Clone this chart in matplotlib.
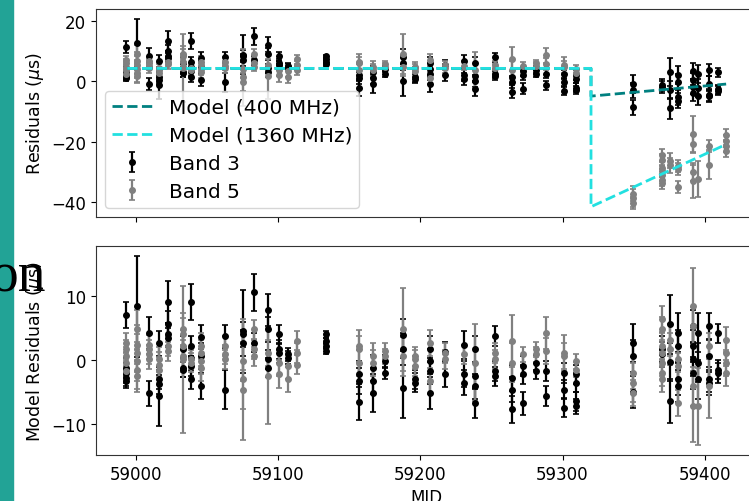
import numpy as np
import matplotlib.pyplot as plt
from matplotlib.patches import Rectangle

plt.rcParams.update({
    "font.size": 12,
    "axes.edgecolor": "#333333",
})

# timing model: flat, then a step at MJD 59320 with linear recovery
model_mjd  = [58994.0, 59320.0, 59320.0, 59415.0]
model_400  = [4.3, 4.3, -4.9, -0.9]
model_1360 = [4.3, 4.3, -41.6, -20.9]

# Band 3 (400 MHz): post-fit residuals (us) and errors
b3_mjd = [58993, 58993, 58993, 58993, 58993,
          59001,
          59009, 59009,
          59016, 59016, 59016, 59016,
          59022.5, 59022.5, 59022.5, 59022.5,
          59033, 59033, 59033,
          59038.6, 59038.6, 59038.6, 59038.6, 59038.6,
          59045.6, 59045.6, 59045.6,
          59063, 59063,
          59075.6, 59075.6, 59075.6,
          59083, 59083,
          59093, 59093, 59093, 59093,
          59100.6, 59100.6, 59100.6,
          59106.7, 59106.7,
          59133.5, 59133.5, 59133.5, 59133.5,
          59156.7, 59156.7, 59156.7,
          59166.8, 59166.8, 59166.8,
          59175.4, 59175.4,
          59187.9, 59187.9, 59187.9,
          59196.5, 59196.5,
          59207, 59207, 59207, 59207,
          59217.5, 59217.5,
          59230.4, 59230.4, 59230.4,
          59238.6, 59238.6, 59238.6, 59238.6,
          59252.4, 59252.4, 59252.4,
          59264.6, 59264.6, 59264.6,
          59272.3, 59272.3, 59272.3,
          59281, 59281,
          59288.4, 59288.4,
          59301.3, 59301.3, 59301.3,
          59309.5, 59309.5, 59309.5, 59309.5,
          59349.3, 59349.3, 59349.3,
          59369.6, 59369.6,
          59375.4, 59375.4, 59375.4,
          59381.3, 59381.3, 59381.3, 59381.3,
          59391.8, 59391.8, 59391.8, 59391.8,
          59395.3, 59395.3, 59395.3,
          59403, 59403, 59403, 59403,
          59409.4, 59409.4, 59409.4]
b3_res = [7.0, -1.2, -2.0, -2.8, -3.3,
          8.4,
          4.2, -5.2,
          2.6, -3.0, -3.8, -5.6,
          9.1, 5.7, 4.0, 3.5,
          1.7, -1.2, -1.5,
          9.1, 2.2, 0.4, -0.9, -3.0,
          3.6, 0.6, -4.0,
          3.75, -4.6,
          4.5, 4.0, 2.7,
          10.6, 2.7,
          7.8, 4.8, 0.1, -1.2,
          4.0, 1.7, 1.1,
          0.9, 0.4,
          4.0, 3.0, 2.2, 1.4,
          -2.2, -3.3, -6.5,
          -1.2, -3.3, -5.1,
          -0.2, -2.0,
          3.9, 1.8, -4.3,
          -3.0, -3.5,
          1.7, -0.2, -1.7, -5.2,
          1.25, -2.2,
          2.3, -2.2, -3.5,
          1.7, -2.5, -4.1, -6.7,
          3.75, -1.7, -2.5,
          -2.8, -4.6, -7.7,
          -0.9, -2.2, -6.7,
          -0.4, -1.7,
          -1.7, -5.6,
          -2.0, -4.6, -7.4,
          -2.2, -3.5, -6.4, -7.2,
          2.7, 0.7, -5.0,
          1.7, 0.9,
          5.6, -0.3, -6.4,
          4.3, 2.2, -3.0, -4.1,
          5.3, 2.2, 0.1, -2.0,
          4.3, -0.4, -3.0,
          5.3, 0.6, -3.0, -3.5,
          4.2, -1.5, -2.0]
b3_err = [2.0, 1.5, 1.5, 1.2, 1.0,
          7.9,
          2.5, 2.0,
          2.0, 1.5, 1.5, 4.6,
          3.3, 2.0, 1.8, 1.5,
          2.0, 1.5, 1.2,
          2.8, 1.5, 1.5, 1.5, 1.5,
          1.8, 2.0, 2.0,
          1.8, 3.1,
          6.5, 2.0, 2.0,
          2.9, 1.5,
          2.5, 2.0, 1.5, 1.5,
          1.5, 1.5, 1.5,
          1.0, 1.0,
          0.5, 0.5, 0.5, 0.5,
          2.0, 2.0, 2.8,
          2.0, 2.0, 3.0,
          1.0, 1.0,
          2.5, 2.5, 4.7,
          1.5, 1.5,
          2.0, 2.0, 2.0, 2.5,
          1.5, 2.0,
          2.2, 2.0, 2.0,
          2.0, 2.0, 2.0, 2.4,
          1.5, 1.5, 1.5,
          2.0, 2.0, 2.1,
          1.5, 1.5, 1.8,
          1.2, 1.2,
          1.5, 1.5,
          1.5, 1.5, 1.5,
          1.5, 1.5, 1.5, 1.2,
          3.0, 2.5, 2.5,
          2.0, 2.0,
          4.6, 3.0, 3.4,
          3.0, 2.5, 2.5, 2.5,
          2.5, 2.5, 2.5, 2.5,
          3.0, 3.0, 3.0,
          2.0, 2.5, 2.0, 2.0,
          1.5, 1.5, 1.5]

# Band 5 (1360 MHz): post-fit residuals (us) and errors
b5_mjd = [58993, 58993, 58993, 58993, 58993,
          59001, 59001, 59001, 59001, 59001, 59001,
          59009, 59009, 59009, 59009,
          59016, 59016, 59016,
          59022.5, 59022.5,
          59033, 59033, 59033, 59033, 59033,
          59038.6, 59038.6,
          59045.6, 59045.6, 59045.6, 59045.6,
          59063, 59063, 59063,
          59075.6, 59075.6, 59075.6,
          59083, 59083, 59083,
          59093, 59093,
          59100.6, 59100.6,
          59106.7, 59106.7,
          59113.5, 59113.5, 59113.5,
          59156.7, 59156.7, 59156.7,
          59166.8, 59166.8,
          59175.4, 59175.4,
          59187.9, 59187.9,
          59196.5, 59196.5, 59196.5,
          59207, 59207,
          59217.5, 59217.5,
          59230.4,
          59238.6,
          59252.4, 59252.4,
          59264.6, 59264.6,
          59272.3,
          59281, 59281,
          59288.4, 59288.4,
          59301.3, 59301.3,
          59309.5, 59309.5,
          59349.3, 59349.3, 59349.3,
          59369.6, 59369.6, 59369.6, 59369.6, 59369.6, 59369.6, 59369.6,
          59375.4, 59375.4,
          59381.3, 59381.3, 59381.3,
          59391.8, 59391.8, 59391.8, 59391.8,
          59395.3,
          59403, 59403,
          59414.7, 59414.7, 59414.7, 59414.7]
b5_res = [2.7, 1.7, 0.6, -0.4, -1.7,
          4.8, 2.4, 1.1, -0.2, -1.5, -2.5,
          2.4, 1.7, 0.9, 0.1,
          0.1, -0.7, -1.5,
          2.2, 1.4,
          4.8, 4.0, 2.2, 0.6, 0.1,
          0.1, -0.4,
          2.2, 1.1, -0.2, -1.2,
          2.2, 0.9, 0.1,
          -0.2, -3.0, -4.6,
          4.8, 1.7, 0.6,
          1.1, -2.5,
          -0.4, -2.2,
          -0.9, -3.0,
          3.0, 1.1, -0.7,
          2.2, 1.7, -0.4,
          0.6, -0.4,
          1.4, 0.6,
          4.8, 0.6,
          0.6, 0.1, -0.9,
          2.7, -3.3,
          1.1, 0.1,
          0.9,
          -0.4,
          1.1, 0.1,
          3.0, -0.4,
          0.9,
          1.7, 0.9,
          4.3, 1.4,
          1.1, 0.6,
          -0.2, -1.5,
          -2.0, -3.5, -5.1,
          6.4, 4.8, 2.2, 1.1, -0.4, -2.0, -3.0,
          3.2, 1.7,
          0.1, -0.9, -6.7,
          8.4, 5.3, -4.1, -7.2,
          -7.2,
          2.2, -4.1,
          3.2, 1.1, -0.4, -2.0]
b5_err = [1.5, 1.5, 1.5, 1.5, 1.5,
          3.0, 3.0, 3.0, 3.0, 3.0, 2.5,
          1.5, 1.5, 1.5, 1.5,
          2.0, 2.0, 2.0,
          1.5, 1.5,
          2.5, 2.5, 2.5, 2.5, 11.4,
          1.5, 1.5,
          2.0, 2.0, 2.0, 2.0,
          1.5, 1.5, 1.5,
          3.0, 9.4, 3.0,
          1.5, 1.5, 1.5,
          2.0, 7.5,
          2.0, 2.2,
          2.0, 2.0,
          1.5, 1.5, 1.5,
          2.5, 2.0, 2.0,
          2.0, 2.0,
          1.2, 1.2,
          6.5, 3.0,
          1.5, 1.5, 1.5,
          2.0, 2.0,
          1.5, 1.5,
          1.5,
          6.0,
          1.5, 1.5,
          4.0, 3.0,
          1.2,
          1.2, 1.2,
          2.5, 2.0,
          2.8, 2.0,
          1.2, 1.2,
          2.5, 3.0, 2.0,
          2.0, 2.0, 2.0, 2.0, 2.0, 2.0, 2.0,
          2.5, 2.5,
          2.0, 2.0, 2.0,
          6.0, 3.0, 3.0, 5.5,
          6.0,
          2.0, 4.9,
          2.0, 2.0, 2.0, 2.0]

b3_mjd = np.array(b3_mjd); b3_res = np.array(b3_res); b3_err = np.array(b3_err)
b5_mjd = np.array(b5_mjd); b5_res = np.array(b5_res); b5_err = np.array(b5_err)

# pre-fit residuals = model + post-fit residuals
b3_pre = b3_res + np.interp(b3_mjd, model_mjd, model_400)
b5_pre = b5_res + np.interp(b5_mjd, model_mjd, model_1360)

eb = dict(fmt='o', ms=4, capsize=2, elinewidth=1.6, capthick=1.2)

fig = plt.figure(figsize=(7.49, 5.02), dpi=100)
fig.patches.append(Rectangle((0, 0), 13/749, 1, transform=fig.transFigure,
                             color='#22a396', zorder=0))

ax1 = fig.add_axes([96/749, 1 - 218/502, 660/749, 208/502])
ax2 = fig.add_axes([96/749, 1 - 456/502, 660/749, 209/502], sharex=ax1)

# top: residuals with the step model
ax1.errorbar(b3_mjd, b3_pre, yerr=b3_err, color='k', label='Band 3', **eb)
ax1.errorbar(b5_mjd, b5_pre, yerr=b5_err, color='gray', label='Band 5', **eb)
ax1.plot(model_mjd, model_400, '--', color='teal', lw=2, zorder=4,
         label='Model (400 MHz)')
ax1.plot(model_mjd, model_1360, '--', color='#22e0e0', lw=2, zorder=5,
         label='Model (1360 MHz)')
ax1.set_ylim(-45, 24)
ax1.set_yticks([-40, -20, 0, 20])
ax1.set_ylabel(r'Residuals ($\mu$s)', fontsize=12.5)
ax1.tick_params(labelbottom=False)
ax1.legend(loc='lower left', fontsize=14.5, labelspacing=0.45, borderpad=0.35,
           borderaxespad=0.45)

# bottom: residuals after subtracting the model
ax2.errorbar(b3_mjd, b3_res, yerr=b3_err, color='k', **eb)
ax2.errorbar(b5_mjd, b5_res, yerr=b5_err, color='gray', **eb)
ax2.set_ylim(-14.8, 17.8)
ax2.set_yticks([-10, 0, 10])
ax2.set_ylabel(r'Model Residuals ($\mu$s)', fontsize=12.5)
ax2.set_xlim(58972, 59436)
ax2.set_xticks([59000, 59100, 59200, 59300, 59400])
ax2.set_xlabel('MJD')

fig.text(46/749, 1 - 291/502, 'on', family='Liberation Serif', fontsize=40,
         ha='right', va='baseline', zorder=10)

fig.savefig('out.png', dpi=100)
